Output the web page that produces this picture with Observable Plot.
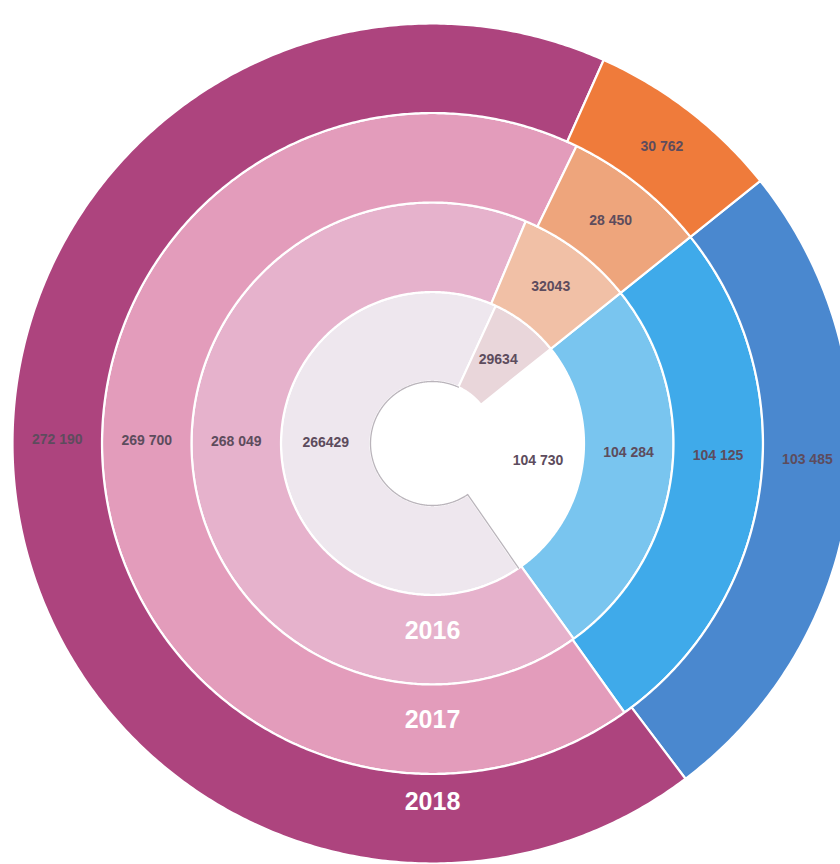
<!DOCTYPE html>
<html><head><meta charset="utf-8">
<script src="https://cdn.jsdelivr.net/npm/d3@7"></script>
<script src="https://cdn.jsdelivr.net/npm/@observablehq/plot@0.6"></script>
<style>html,body{margin:0;padding:0;background:#fff;}</style>
</head><body><div id="chart"></div>
<script>
// ---- data ----
const years = ["2015", "2016", "2017", "2018"];
const yearLabels = [null, "2016", "2017", "2018"];
const blueValues = [104730, 104284, 104125, 103485];
const pinkValues = [266429, 268049, 269700, 272190];
const peachValues = [29634, 32043, 28450, 30762];
const blueLabels = ["104 730", "104 284", "104 125", "103 485"];
const pinkLabels = ["266429", "268 049", "269 700", "272 190"];
const peachLabels = ["29634", "32043", "28 450", "30 762"];
const blueColors = ["#ffffff", "#79c5ef", "#3faaea", "#4a88cf"];
const pinkColors = ["#eee7ee", "#e6b2cc", "#e39cbb", "#ad447e"];
const peachColors = ["#e9d6da", "#f1c0a6", "#eea57c", "#ef7b3b"];

// ---- layout ----
const W = 840, H = 864;
const cx = 432, cy = 443;
const R0 = 62, ringW = 89.5;
const startDeg = 51.3;
const rad = Math.PI / 180;

const slices = [];
years.forEach((yr, i) => {
  const segs = [
    {cat: "blue", v: blueValues[i], label: blueLabels[i], color: blueColors[i]},
    {cat: "pink", v: pinkValues[i], label: pinkLabels[i], color: pinkColors[i]},
    {cat: "peach", v: peachValues[i], label: peachLabels[i], color: peachColors[i]}
  ];
  const total = d3.sum(segs, d => d.v);
  let a = startDeg;
  for (const s of segs) {
    const a0 = a, a1 = a + s.v / total * 360;
    a = a1;
    slices.push({...s, ring: i, year: yr, a0, a1, r0: R0 + i * ringW, r1: R0 + (i + 1) * ringW});
  }
});

const pts = [];
for (const s of slices) {
  const key = s.year + "-" + s.cat;
  const n = Math.max(4, Math.ceil((s.a1 - s.a0) / 0.5));
  const ring = [];
  for (let k = 0; k <= n; k++) {
    const t = (s.a0 + (s.a1 - s.a0) * k / n) * rad;
    ring.push({key, color: s.color, x: s.r1 * Math.sin(t), y: s.r1 * Math.cos(t)});
  }
  for (let k = n; k >= 0; k--) {
    const t = (s.a0 + (s.a1 - s.a0) * k / n) * rad;
    ring.push({key, color: s.color, x: s.r0 * Math.sin(t), y: s.r0 * Math.cos(t)});
  }
  ring.push({...ring[0]});
  pts.push(...ring);
}

// thin grey edge around the hole on the pink side of the innermost ring
const edge = [];
{
  const s = slices.find(d => d.ring === 0 && d.cat === "pink");
  const n = Math.ceil((s.a1 - s.a0) / 0.5);
  const tEnd = s.a0 * rad;
  edge.push({x: s.r1 * Math.sin(tEnd), y: s.r1 * Math.cos(tEnd)});
  for (let k = 0; k <= n; k++) {
    const t = (s.a0 + (s.a1 - s.a0) * k / n) * rad;
    edge.push({x: s.r0 * Math.sin(t), y: s.r0 * Math.cos(t)});
  }
}

const labels = slices.map(s => {
  const rm = (s.r0 + s.r1) / 2;
  let ang;
  if (s.cat === "pink") ang = 270.6;
  else if (s.cat === "blue") ang = s.ring === 0 ? 99 : 92.5;
  else ang = (s.a0 + s.a1) / 2;
  return {x: rm * Math.sin(ang * rad), y: rm * Math.cos(ang * rad), text: s.label};
});

const yearPos = years.map((y, i) => ({
  text: yearLabels[i],
  x: 0,
  y: -(R0 + i * ringW + ringW * 0.4) + (i === 3 ? 8 : 0)
})).filter(d => d.text);

const chart = Plot.plot({
  width: W, height: H,
  margin: 0,
  x: {domain: [-cx, W - cx], axis: null},
  y: {domain: [-(H - cy), cy], axis: null},
  color: {type: "identity"},
  style: {fontFamily: "'Liberation Sans', Arial, sans-serif", background: "#fff"},
  marks: [
    Plot.line(pts, {x: "x", y: "y", z: "key", fill: "color", stroke: "#ffffff", strokeWidth: 2.2, curve: "linear", strokeLinejoin: "round"}),
    Plot.line(edge, {x: "x", y: "y", stroke: "#a9a1aa", strokeWidth: 1.3, strokeOpacity: 0.8}),
    Plot.text(labels, {x: "x", y: "y", text: "text", fill: "#5d4c5d", fontSize: 14, fontWeight: "bold"}),
    Plot.text(yearPos, {x: "x", y: "y", text: "text", fill: "#ffffff", fontSize: 25, fontWeight: "bold"})
  ]
});
document.getElementById("chart").appendChild(chart);
</script>
</body></html>
